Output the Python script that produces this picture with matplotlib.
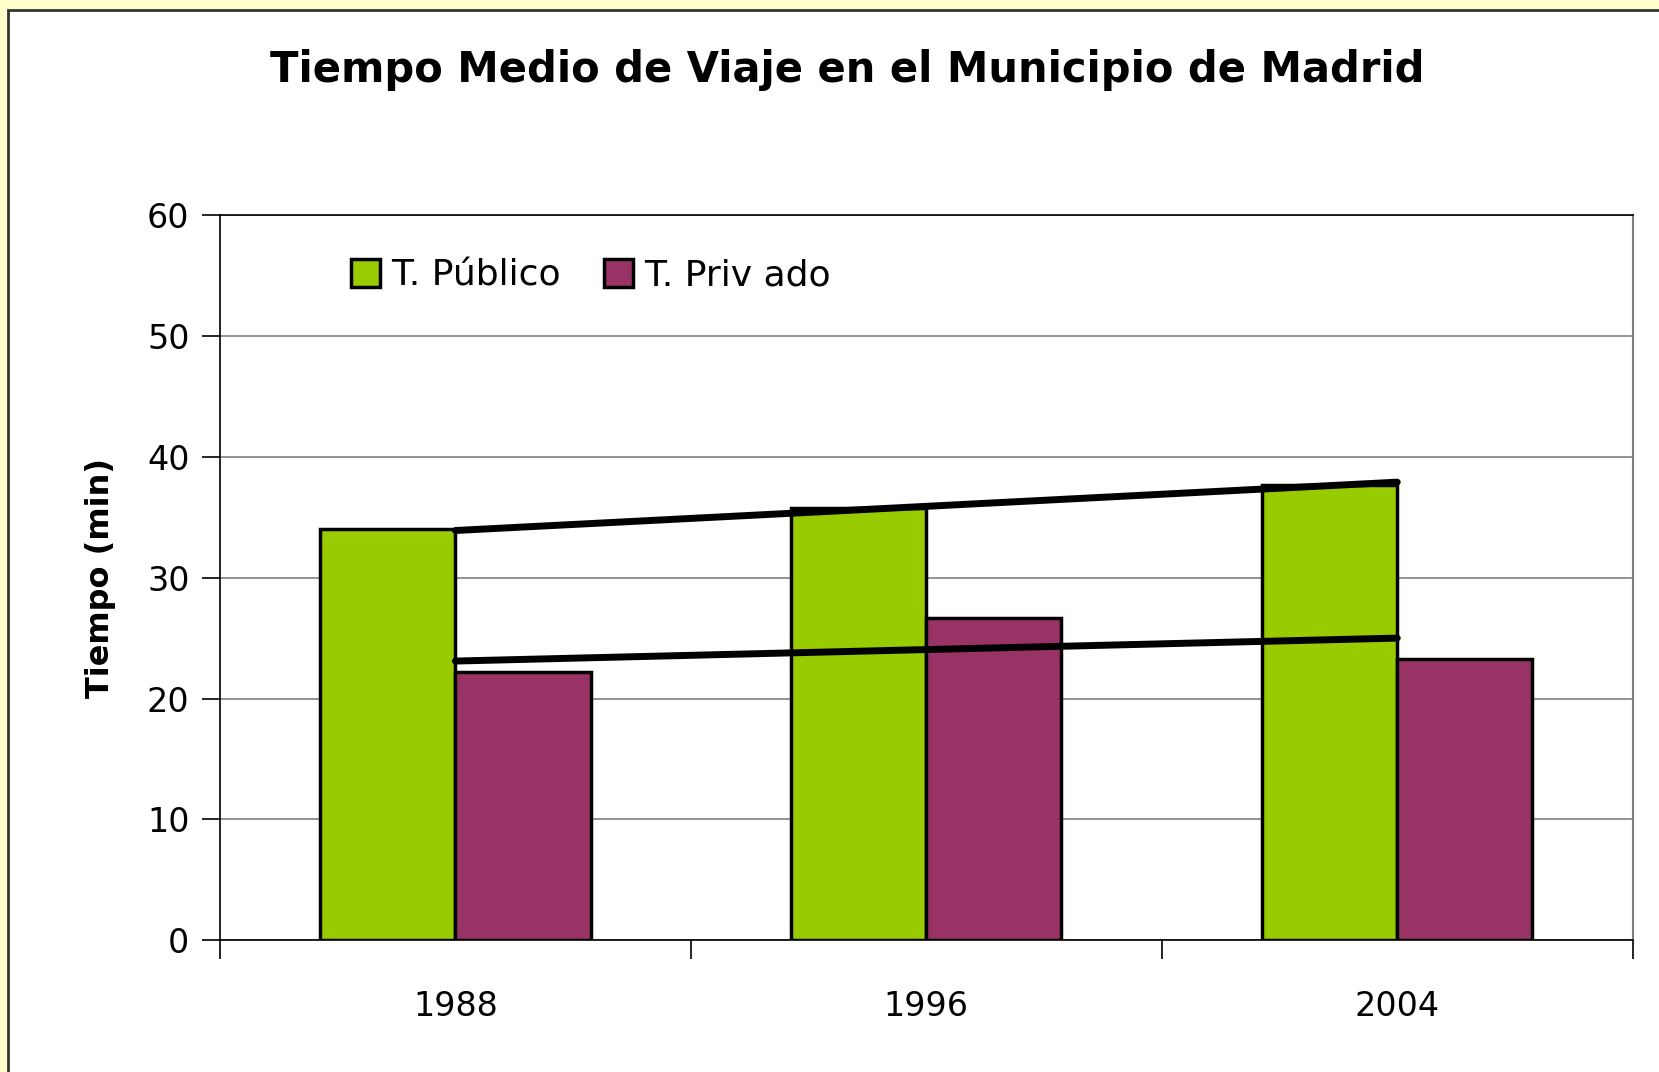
import matplotlib.pyplot as plt
from matplotlib.patches import Rectangle
import numpy as np

years = ['1988', '1996', '2004']
publico = [34.0, 35.8, 37.7]
privado = [22.2, 26.7, 23.3]
trend_publico = [33.9, 37.9]
trend_privado = [23.1, 25.0]
yticks = [0, 10, 20, 30, 40, 50, 60]

font = 'DejaVu Sans'
plt.rcParams['font.family'] = [font]

fig = plt.figure(figsize=(16.59, 10.72), dpi=100)
fig.patch.set_facecolor('#FFFFCC')
# white panel with dark border, cut off at right and bottom
fig.patches.append(Rectangle((8 / 1659, -0.05), 1.2, 1 - 10 / 1072 + 0.05,
                             transform=fig.transFigure, facecolor='white',
                             edgecolor='#333333', linewidth=2, zorder=-10))

ax = fig.add_axes([220 / 1659, 1 - 940.3 / 1072, (1632.7 - 220) / 1659, (940.3 - 215) / 1072])
ax.set_facecolor('white')
x = np.arange(len(years))
w = 0.287
ax.bar(x - w / 2, publico, w, color='#99CC00', edgecolor='black', linewidth=2.5,
       label='T. Público', zorder=3)
ax.bar(x + w / 2, privado, w, color='#993366', edgecolor='black', linewidth=2.5,
       label='T. Priv ado', zorder=3)

ax.plot([x[0], x[-1]], trend_publico, color='black', lw=5, solid_capstyle='round', zorder=4)
ax.plot([x[0], x[-1]], trend_privado, color='black', lw=5, solid_capstyle='round', zorder=4)

ax.set_xlim(-0.5, 2.5)
ax.set_ylim(0, 60)
ax.set_yticks(yticks)
ax.set_yticklabels([str(v) for v in yticks], fontsize=24)
ax.yaxis.grid(True, color='#808080', lw=1.2, zorder=0)
ax.set_axisbelow(True)
ax.set_xticks([-0.5, 0.5, 1.5, 2.5])
ax.set_xticklabels([])
ax.set_xticks(x, minor=True)
ax.set_xticklabels(years, minor=True, fontsize=24)
ax.tick_params(axis='x', which='major', direction='out', length=14, width=1.2, color='black')
ax.tick_params(axis='x', which='minor', length=0, pad=36)
ax.tick_params(axis='y', direction='out', length=13, width=1.2, pad=9)

for s in ['left', 'bottom', 'top']:
    ax.spines[s].set_color('black')
    ax.spines[s].set_linewidth(1.2)
ax.spines['right'].set_color('#808080')
ax.spines['right'].set_linewidth(1.5)

ax.set_ylabel('Tiempo (min)', fontsize=23, fontweight='bold', labelpad=22)

leg = ax.legend(loc='upper left', bbox_to_anchor=(0.07, 0.985), ncol=2, frameon=False,
                fontsize=26, handlelength=0.8, handleheight=0.8, handletextpad=0.3,
                columnspacing=1.2)

fig.text(847 / 1659, 1 - 70 / 1072, 'Tiempo Medio de Viaje en el Municipio de Madrid',
         ha='center', va='center', fontsize=30, fontweight='bold')

fig.savefig('out.png', dpi=100, facecolor=fig.get_facecolor())
